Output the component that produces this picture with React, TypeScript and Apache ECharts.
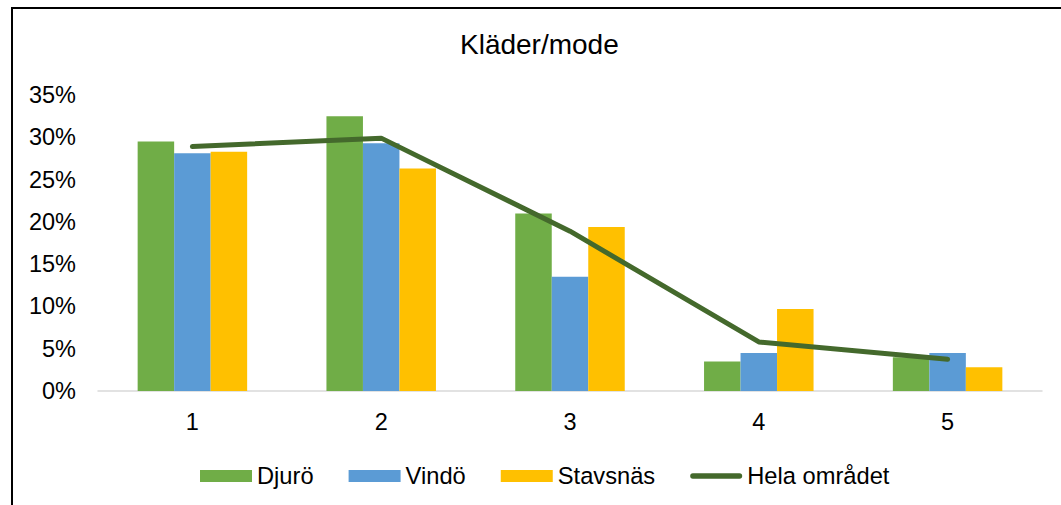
import React, { useEffect, useRef } from "react";
import * as echarts from "echarts";

const categories = ["1", "2", "3", "4", "5"];
const djuro = [29.5, 32.5, 21.0, 3.5, 4.0];
const vindo = [28.1, 29.3, 13.5, 4.5, 4.5];
const stavsnas = [28.3, 26.3, 19.4, 9.7, 2.8];
const helaOmradet = [28.9, 29.9, 18.9, 5.8, 3.75];

const FONT = "'Liberation Sans', Arial, sans-serif";

export default function App() {
  const ref = useRef<HTMLDivElement>(null);
  useEffect(() => {
    if (!ref.current) return;
    const chart = echarts.init(ref.current, undefined, { renderer: "svg" });
    chart.setOption({
      animation: false,
      backgroundColor: "#ffffff",
      title: {
        text: "Kläder/mode",
        left: 455,
        top: 25,
        textStyle: { fontFamily: FONT, fontSize: 28, fontWeight: "normal", color: "#000" },
      },
      legend: {
        left: 195,
        top: 459,
        itemWidth: 52,
        itemHeight: 12,
        itemGap: 35,
        textStyle: { fontFamily: FONT, fontSize: 23.7, color: "#000" },
        data: [
          { name: "Djurö", icon: "rect" },
          { name: "Vindö", icon: "rect" },
          { name: "Stavsnäs", icon: "rect" },
          {
            name: "Hela området",
            icon: "path://M3,0 L55,0 A3,3 0 0 1 55,6 L3,6 A3,3 0 0 1 3,0 Z",
            itemStyle: { color: "#44692C" },
          },
        ],
      },
      grid: { left: 98, right: 19, top: 95, bottom: 114 },
      xAxis: {
        type: "category",
        data: categories,
        axisLine: { lineStyle: { color: "#D9D9D9", width: 1.5 } },
        axisTick: { show: false },
        axisLabel: { fontFamily: FONT, fontSize: 23.5, color: "#000", margin: 19 },
      },
      yAxis: {
        type: "value",
        min: 0,
        max: 35,
        interval: 5,
        splitLine: { show: false },
        axisLine: { show: false },
        axisTick: { show: false },
        axisLabel: { fontFamily: FONT, fontSize: 23.5, color: "#000", margin: 22, formatter: "{value}%" },
      },
      series: [
        {
          name: "Djurö",
          type: "bar",
          data: djuro,
          barGap: "0%",
          barCategoryGap: "42%",
          itemStyle: { color: "#70AD47" },
        },
        {
          name: "Vindö",
          type: "bar",
          data: vindo,
          barGap: "0%",
          barCategoryGap: "42%",
          itemStyle: { color: "#5B9BD5" },
        },
        {
          name: "Stavsnäs",
          type: "bar",
          data: stavsnas,
          barGap: "0%",
          barCategoryGap: "42%",
          itemStyle: { color: "#FFC000" },
        },
        {
          name: "Hela området",
          type: "line",
          data: helaOmradet,
          symbol: "none",
          itemStyle: { color: "#44692C" },
          lineStyle: { color: "#44692C", width: 5, cap: "round", join: "round" },
        },
      ],
      graphic: [
        { type: "line", shape: { x1: 12, y1: 7, x2: 12, y2: 505 }, style: { stroke: "#000", lineWidth: 2 } },
        { type: "line", shape: { x1: 11, y1: 8, x2: 1061, y2: 8 }, style: { stroke: "#000", lineWidth: 2 } },
      ],
    });
    return () => chart.dispose();
  }, []);
  return (
    <div
      ref={ref}
      style={{ position: "fixed", left: 0, top: 0, width: 1061, height: 505, background: "#fff" }}
    />
  );
}
